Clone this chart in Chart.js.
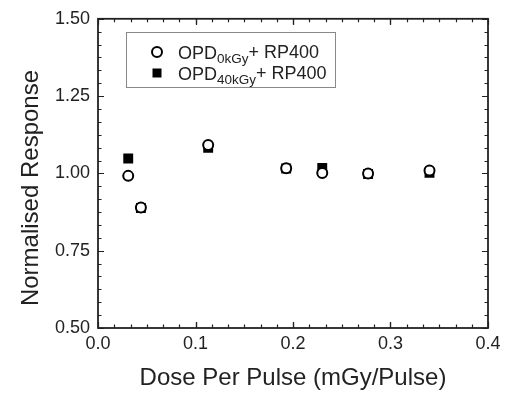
<!DOCTYPE html>
<html>
<head>
<meta charset="utf-8">
<script src="https://cdn.jsdelivr.net/npm/chart.js@4"></script>
<style>
  html, body { margin: 0; padding: 0; background: #fff; }
  #wrap { width: 512px; height: 393px; }
</style>
</head>
<body>
<div id="wrap"><canvas id="chart" width="512" height="393"></canvas></div>
<script>
// dose per pulse (mGy/Pulse)
const dose = [0.031, 0.044, 0.113, 0.193, 0.230, 0.277, 0.340];
// normalised response for each detector
const resp0kGy = [0.992, 0.890, 1.092, 1.017, 1.001, 1.000, 1.009];
const resp40kGy = [1.048, 0.888, 1.083, 1.016, 1.018, 0.998, 1.002];

const xTicks = [0.0, 0.1, 0.2, 0.3, 0.4];
const yTicks = [0.50, 0.75, 1.00, 1.25, 1.50];
const minorPerMajor = 6;

const FONT = "'Liberation Sans', Arial, sans-serif";
const INK = '#222';

function toPoints(xs, ys) {
    return xs.map((x, i) => ({ x: x, y: ys[i] }));
}

// box frame + inward ticks on all four sides
const framePlugin = {
    id: 'frame',
    beforeDatasetsDraw(chart) {
        const ctx = chart.ctx;
        const a = chart.chartArea;
        const xs = chart.scales.x, ys = chart.scales.y;
        ctx.save();
        ctx.strokeStyle = INK;
        ctx.lineWidth = 1.2;
        // x ticks
        for (let i = 0; i < xTicks.length - 1; i++) {
            const step = (xTicks[i + 1] - xTicks[i]) / minorPerMajor;
            for (let j = 0; j <= minorPerMajor; j++) {
                const px = Math.round(xs.getPixelForValue(xTicks[i] + j * step)) + 0.5;
                const len = (j === 0 || j === minorPerMajor) ? 6 : 3.5;
                ctx.beginPath();
                ctx.moveTo(px, a.bottom); ctx.lineTo(px, a.bottom - len);
                ctx.moveTo(px, a.top); ctx.lineTo(px, a.top + len);
                ctx.stroke();
            }
        }
        // y ticks
        for (let i = 0; i < yTicks.length - 1; i++) {
            const step = (yTicks[i + 1] - yTicks[i]) / minorPerMajor;
            for (let j = 0; j <= minorPerMajor; j++) {
                const py = Math.round(ys.getPixelForValue(yTicks[i] + j * step)) + 0.5;
                const len = (j === 0 || j === minorPerMajor) ? 6 : 3.5;
                ctx.beginPath();
                ctx.moveTo(a.left, py); ctx.lineTo(a.left + len, py);
                ctx.moveTo(a.right, py); ctx.lineTo(a.right - len, py);
                ctx.stroke();
            }
        }
        ctx.lineWidth = 1.8;
        ctx.strokeRect(a.left, a.top, a.right - a.left, a.bottom - a.top);
        ctx.restore();
    }
};

// y title sits a bit below the middle of the axis, as in the original plot
const yTitlePlugin = {
    id: 'yTitle',
    afterDraw(chart) {
        const ctx = chart.ctx;
        ctx.save();
        ctx.translate(31, 188);
        ctx.rotate(-Math.PI / 2);
        ctx.fillStyle = INK;
        ctx.font = '24px ' + FONT;
        ctx.textAlign = 'center';
        ctx.textBaseline = 'middle';
        ctx.fillText('Normalised Response', 0, 0);
        ctx.restore();
    }
};

// legend with subscripts
const legendItems = [
    { main: 'OPD', sub: '0kGy', tail: '+ RP400', style: 'circle' },
    { main: 'OPD', sub: '40kGy', tail: '+ RP400', style: 'square' }
];

const legendPlugin = {
    id: 'subLegend',
    afterDraw(chart) {
        const ctx = chart.ctx;
        const box = { x: 126, y: 32, w: 209, h: 55 };
        ctx.save();
        ctx.strokeStyle = '#888';
        ctx.lineWidth = 1;
        ctx.strokeRect(box.x + 0.5, box.y + 0.5, box.w, box.h);
        legendItems.forEach((item, i) => {
            const cy = 52 + i * 21;
            if (item.style === 'circle') {
                ctx.beginPath();
                ctx.arc(157, cy, 5, 0, Math.PI * 2);
                ctx.fillStyle = '#fff';
                ctx.fill();
                ctx.lineWidth = 2;
                ctx.strokeStyle = '#000';
                ctx.stroke();
            } else {
                ctx.fillStyle = '#000';
                ctx.fillRect(152.5, cy - 4.5, 9, 9);
            }
            ctx.fillStyle = INK;
            ctx.textBaseline = 'alphabetic';
            let x = 178;
            const base = cy + 7;
            ctx.font = '18px ' + FONT;
            ctx.fillText(item.main, x, base);
            x += ctx.measureText(item.main).width;
            ctx.font = '13.5px ' + FONT;
            ctx.fillText(item.sub, x, base + 4);
            x += ctx.measureText(item.sub).width;
            ctx.font = '18px ' + FONT;
            ctx.fillText(item.tail, x, base - 1);
        });
        ctx.restore();
    }
};

new Chart(document.getElementById('chart'), {
    type: 'scatter',
    data: {
        datasets: [
            {
                label: 'OPD0kGy+ RP400',
                data: toPoints(dose, resp0kGy),
                pointStyle: 'circle',
                pointRadius: 5,
                pointBorderWidth: 2,
                pointBackgroundColor: '#fff',
                pointBorderColor: '#000'
            },
            {
                label: 'OPD40kGy+ RP400',
                data: toPoints(dose, resp40kGy),
                pointStyle: 'rect',
                pointRadius: 7,
                pointBorderWidth: 0,
                pointBackgroundColor: '#000',
                pointBorderColor: '#000'
            }
        ]
    },
    options: {
        responsive: false,
        animation: false,
        events: [],
        layout: { padding: { top: 12, right: 24, left: 0, bottom: 0 } },
        plugins: {
            legend: { display: false },
            tooltip: { enabled: false }
        },
        scales: {
            x: {
                type: 'linear',
                min: 0,
                max: 0.4,
                grid: { display: false, drawTicks: false },
                border: { display: false },
                ticks: {
                    stepSize: 0.1,
                    padding: 5,
                    color: INK,
                    font: { family: FONT, size: 18 },
                    callback: v => v.toFixed(1)
                },
                title: {
                    display: true,
                    text: 'Dose Per Pulse (mGy/Pulse)',
                    color: INK,
                    font: { family: FONT, size: 24 },
                    padding: { top: 0, bottom: 0 }
                },
                afterFit: s => { s.height = 65; }
            },
            y: {
                min: 0.5,
                max: 1.5,
                grid: { display: false, drawTicks: false },
                border: { display: false },
                ticks: {
                    stepSize: 0.25,
                    padding: 8,
                    color: INK,
                    font: { family: FONT, size: 18 },
                    callback: v => v.toFixed(2)
                },
                title: { display: false },
                afterFit: s => { s.width = 98; }
            }
        }
    },
    plugins: [framePlugin, yTitlePlugin, legendPlugin]
});
</script>
</body>
</html>
